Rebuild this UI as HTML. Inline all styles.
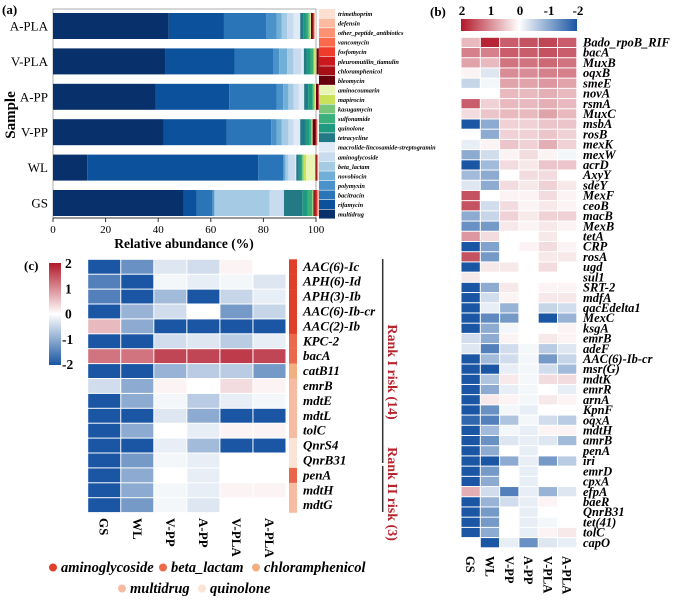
<!DOCTYPE html>
<html><head><meta charset="utf-8">
<style>
html,body{margin:0;padding:0;background:#fff;}
svg{display:block;font-family:"Liberation Serif",serif;}
svg text{font-family:"Liberation Serif",serif;}
.it{font-style:italic;font-weight:bold;}
</style></head>
<body>
<svg id="fig" width="676" height="601" viewBox="0 0 676 601" xmlns="http://www.w3.org/2000/svg">
<g id="pa"></g>
<g id="pb"></g>
<g id="pc"></g>
</svg>
<script>
// ---------- Panel (a) data ----------
const samplesA = ["A-PLA","V-PLA","A-PP","V-PP","WL","GS"];
const classesA = ["multidrug","rifamycin","bacitracin","polymyxin","novobiocin","beta_lactam","aminoglycoside","macrolide-lincosamide-streptogramin","tetracycline","quinolone","sulfonamide","kasugamycin","mapirocin","aminocoumarin","bleomycin","chloramphenicol","pleuromutilin_tiamulin","fosfomycin","vancomycin","other_peptide_antibiotics","defensin","trimethoprim"];
const classColorsA = ["#08306b","#0b519c","#2a74b8","#4a92c9","#72afd8","#a4cbe3","#c9dcef","#dfeaf6","#237a86","#1d9a80","#3cb07a","#78c679","#c9e25a","#e8f5b4","#67000d","#a50f15","#cb181d","#ef3b2c","#fb6a4a","#fc9272","#fcbba1","#fde0d2"];
const valsAPLA = [44,21,16,4,2,2,2.5,2.5,1.2,1.2,0.8,0.4,0.3,0.2,0.6,0.3,0.2,0.1,0.1,0.1,0.1,0.4];
const valsVPLA = [42.6,26.4,14.8,2.2,3,2.4,3,1,1,1.5,1,0.4,0.6,0.3,0.8,0.2,0.1,0.1,0.1,0.1,0.1,0.3];
const valsAPP  = [39,28,18,2.5,2,2,2,2,1.5,1.5,0.5,0.4,0.4,0.2,0.8,0.2,0.1,0.1,0.1,0.1,0.1,0.3];
const valsVPP  = [42,24,17,2,2,2.5,2,2.5,2,1.5,0.6,0.2,0.2,0.2,1.2,0.2,0.1,0.1,0.1,0.1,0.1,0.2];
const valsWL   = [13,65,9.5,0.5,0.5,1,2.5,0.5,1,1,0.3,0.5,1,3.5,0.3,0.3,0.1,0.1,0.1,0.1,0.1,0.1];
const valsGS   = [49.6,5,6,0.6,0.2,21,5.3,0.1,7,2,1.7,0.3,0.1,0.1,0.5,0.4,0.3,0.2,0.2,0.3,0.2,0.1];
const seriesA = [valsAPLA,valsVPLA,valsAPP,valsVPP,valsWL,valsGS];
const ticksA = [0,20,40,60,80,100];

// ---------- Panel (b) data ----------
const genesB = ["Bado_rpoB_RIF","bacA","MuxB","oqxB","smeE","novA","rsmA","MuxC","msbA","rosB","mexK","mexW","acrD","AxyY","sdeY","MexF","ceoB","macB","MexB","tetA","CRP","rosA","ugd","sul1","SRT-2","mdfA","qacEdelta1","MexC","ksgA","emrB","adeF","AAC(6)-Ib-cr","msr(G)","mdtK","emrR","arnA","KpnF","oqxA","mdtH","amrB","penA","iri","emrD","cpxA","efpA","baeR","QnrB31","tet(41)","tolC","capO"];
const samplesB = ["GS","WL","V-PP","A-PP","V-PLA","A-PLA"];
const valuesB = [
[0.6,1.9,1.4,1.5,1.6,1.4],[1.1,1.1,1.4,1.4,1.5,1.4],[0.8,0.6,1.2,1.2,1.3,1.2],[0.1,-0.3,1.0,1.0,1.1,1.1],
[-0.5,-0.1,0.8,0.8,0.9,0.8],[0,0,0.6,0.6,0.7,0.6],[1.4,0.4,0.6,0.6,0.7,0.6],[0.3,0.5,0.6,0.6,0.8,0.6],
[-2,-1.0,0.4,0.4,0.5,0.5],[0,-1.0,0.4,0.4,0.5,0.4],[-0.2,0.1,0.5,0.4,0.7,0.4],[-1.0,-0.4,0.1,0.3,0.1,-0.1],
[-2,-0.8,0.3,0.2,0.5,0.5],[-0.8,-1.0,0,0.3,0.3,0],[-0.3,-1.0,0.3,0.2,0.4,0.2],[1.5,0,0.1,0.1,0.3,0.1],
[1.5,-0.4,0.3,0.1,0.2,0.1],[-1.0,-0.5,0.4,0.2,0.4,0.4],[-1.3,-1.2,0.2,0.1,0.2,0.1],[0.9,0.3,0,0,0.2,0],
[-2,-1.1,0,0.1,0.3,0.1],[1.5,-1.2,0,0,0.2,0.2],[-2,0.2,0.2,0,0.3,0],[0.2,0,0,0,0,0],
[-2,-1.0,0.2,0,0.1,0.1],[-2,-0.4,0.1,0,0.2,0.2],[-2,-0.2,-0.9,0,-0.5,-0.4],[-2,-1.4,-1.2,0,-2,-0.9],
[-2,-1.0,-0.1,0,0,0.1],[-0.4,-1.0,0.1,0,0.2,0.1],[-0.3,-1.5,-0.4,-0.1,-0.6,-0.3],[-2,-0.8,-0.4,-0.1,-1.2,-0.5],
[-2,-2,-0.2,-0.1,-0.4,-0.8],[-2,-0.7,0.2,-0.1,0.3,0.3],[-2,-1.0,-0.2,-0.1,0,-0.2],[-2,0.2,0.1,-0.1,0.2,0.1],
[-2,-1.3,-0.1,-0.2,0,0],[-1.8,-1.5,-0.7,-0.1,-0.4,-0.6],[-2,-0.8,-0.1,-0.2,0.1,0.1],[-2,-1.3,-0.3,-0.2,-0.3,-0.8],
[-2,-1.0,0,-0.2,0,0],[-2,-2,-1.0,-0.2,-1.2,-0.6],[-2,-1.2,0,-0.2,0,0],[-2,-1.0,0,-0.2,0,0],
[0.7,-0.4,-1.5,-0.2,-0.9,-0.3],[-2,-0.9,-0.4,-0.2,0.1,0],[-2,-1.2,0,-0.2,0,0],[-2,-1.2,0,-0.2,-0.1,0],
[-2,-1.0,0,-0.2,0.1,0.2],[null,-2,-0.2,-1.3,-0.3,-0.2]];

// ---------- Panel (c) data ----------
const genesC = ["AAC(6)-Ic","APH(6)-Id","APH(3)-Ib","AAC(6)-Ib-cr","AAC(2)-Ib","KPC-2","bacA","catB11","emrB","mdtE","mdtL","tolC","QnrS4","QnrB31","penA","mdtH","mdtG"];
const classC = ["aminoglycoside","aminoglycoside","aminoglycoside","aminoglycoside","aminoglycoside","beta_lactam","beta_lactam","chloramphenicol","multidrug","multidrug","multidrug","multidrug","quinolone","quinolone","beta_lactam","multidrug","multidrug"];
const legendC = ["aminoglycoside","beta_lactam","chloramphenicol","multidrug","quinolone"];
const legendColorsC = ["#e0402a","#ea6a4c","#f0b080","#f6bca3","#fbe3d6"];
const valuesC = [
[-2,-1.3,-0.3,-0.4,0.1,0],[-1.5,-2,-0.1,-0.2,-0.1,-0.3],[-1.5,-2,-0.8,-2,-0.5,-0.2],[-2,-0.9,-0.4,0,-1.2,-0.5],
[0.6,-1.0,-2,-2,-2,-2],[-2,-2,-0.4,-0.3,-0.6,-0.2],[1.2,1.2,1.6,1.6,1.7,1.6],[-2,-2,-0.9,-0.6,-0.6,-1.2],
[-0.4,-1.0,0.1,0,0.3,0.1],[-2,-1.0,-0.1,-0.6,-0.2,-0.1],[-2,-2,-0.3,-1.0,-2,-2],[-2,-1.0,0,-0.2,0.1,0.1],
[-2,-2,-0.2,-0.8,-2,-2],[-2,-1.2,-0.1,-0.2,null,null],[-2,-1.0,0,-0.2,null,null],[-2,-1.0,-0.1,-0.2,0.1,0.1],
[-2,-1.2,-0.1,-0.3,null,null]];
const cbTicks = [2,1,0,-1,-2];

const NS="http://www.w3.org/2000/svg";
function mk(parent,tag,attrs,text){const e=document.createElementNS(NS,tag);for(const k in attrs)e.setAttribute(k,attrs[k]);if(text!==undefined)e.textContent=text;parent.appendChild(e);return e;}
function colorOf(v){
  const R=[178,24,43],W=[255,255,255],B=[26,86,163];
  let t=Math.max(-2,Math.min(2,v))/2,c;
  if(t>=0)c=W.map((w,i)=>Math.round(w+(R[i]-w)*t));else c=W.map((w,i)=>Math.round(w+(B[i]-w)*(-t)));
  return `rgb(${c[0]},${c[1]},${c[2]})`;
}

// ===== Panel A =====
const pa=document.getElementById('pa');
const ax0=53, ax1=316, barTop=13, barStep=35.4, barH=26;
const xA=v=>ax0+(ax1-ax0)*v/100;
const yA=i=>barTop+i*barStep;
let t=mk(pa,'text',{x:2,y:14,'font-size':13,'font-weight':'bold'},'(a)');


let fr=mk(pa,'rect',{x:ax0,y:9,width:ax1-ax0,height:209,fill:'none',stroke:'#999','stroke-width':0.8});


seriesA.forEach((vals,si)=>{
  let acc=0;
  vals.forEach((v,ci)=>{
    const r=mk(pa,'rect',{x:xA(acc),y:yA(si),width:Math.max(0,xA(acc+v)-xA(acc)),height:barH,fill:classColorsA[ci]});
    
    
    acc+=v;
  });
  const l=mk(pa,'text',{x:48,y:yA(si)+barH/2+4.5,'font-size':13,'text-anchor':'end'},samplesA[si]);
  
  
});
mk(pa,'line',{x1:ax0,y1:218,x2:ax1,y2:218,stroke:'#333','stroke-width':1});
ticksA.forEach(tv=>{
  const tk=mk(pa,'line',{x1:xA(tv),y1:218,x2:xA(tv),y2:222,stroke:'#333','stroke-width':1});
  
  
  const tl=mk(pa,'text',{x:xA(tv),y:233,'font-size':11,'text-anchor':'middle'},String(tv));
  
  
});
t=mk(pa,'text',{x:184,y:248,'font-size':13.5,'font-weight':'bold','text-anchor':'middle'},'Relative abundance (%)');


t=mk(pa,'text',{x:0,y:0,'font-size':15,'font-weight':'bold','text-anchor':'middle',transform:'translate(15,115) rotate(-90)'},'Sample');


for(let k=0;k<classesA.length;k++){
  const ci=classesA.length-1-k;
  const y=9+k*9.55;
  const s=mk(pa,'rect',{x:319,y:y,width:16,height:9,fill:classColorsA[ci]});
  
  
  const lt=mk(pa,'text',{x:338,y:y+7,'font-size':6.3,class:'it'},classesA[ci]);
  
  
}

// ===== Panel B =====
const pb=document.getElementById('pb');
const bx0=461, bcw=19.3, by0=37.3, brh=10.21;
t=mk(pb,'text',{x:430,y:16,'font-size':13,'font-weight':'bold'},'(b)');


const defs=mk(document.getElementById('fig'),'defs',{});
const gb=mk(defs,'linearGradient',{id:'gb',x1:0,y1:0,x2:1,y2:0});
[[0,2],[0.25,1],[0.5,0],[0.75,-1],[1,-2]].forEach(p=>mk(gb,'stop',{offset:p[0],'stop-color':colorOf(p[1])}));
const gc=mk(defs,'linearGradient',{id:'gc',x1:0,y1:0,x2:0,y2:1});
[[0,2],[0.25,1],[0.5,0],[0.75,-1],[1,-2]].forEach(p=>mk(gc,'stop',{offset:p[0],'stop-color':colorOf(p[1])}));
let cb=mk(pb,'rect',{x:461,y:19,width:116,height:12,fill:'url(#gb)'});


cbTicks.forEach((v,i)=>{
  const tl=mk(pb,'text',{x:462+i*29,y:15,'font-size':13,'font-weight':'bold','text-anchor':'middle'},String(v));
  
  
});
valuesB.forEach((row,ri)=>{
  row.forEach((v,ci)=>{
    if(v===null)return;
    const c=mk(pb,'rect',{x:bx0+ci*bcw+0.5,y:by0+ri*brh+0.5,width:bcw-1,height:brh-1,fill:colorOf(v)});
    
    
  });
  const gl=mk(pb,'text',{x:583,y:by0+ri*brh+brh-1,'font-size':12.5,class:'it'},genesB[ri]);
  
  
});
samplesB.forEach((s,ci)=>{
  const cx=bx0+ci*bcw+bcw/2;
  const sl=mk(pb,'text',{x:0,y:0,'font-size':12.5,'font-weight':'bold',transform:`translate(${cx-4.5},556) rotate(90)`},s);
  
  
});

// ===== Panel C =====
const pc=document.getElementById('pc');
const cx0=87.7, ccw=33.05, cy0=259.3, crh=14.9;
t=mk(pc,'text',{x:24,y:270,'font-size':13,'font-weight':'bold'},'(c)');


cb=mk(pc,'rect',{x:49,y:263,width:12,height:102,fill:'url(#gc)'});


cbTicks.forEach((v,i)=>{
  const tl=mk(pc,'text',{x:v<0?62:65,y:268+i*25.3,'font-size':13.5,'font-weight':'bold'},String(v));
  
  
});
valuesC.forEach((row,ri)=>{
  row.forEach((v,ci)=>{
    if(v===null)return;
    const c=mk(pc,'rect',{x:cx0+ci*ccw+0.5,y:cy0+ri*crh+0.5,width:ccw-1,height:crh-1,fill:colorOf(v)});
    
    
  });
  const k=legendC.indexOf(classC[ri]);
  const cr=mk(pc,'rect',{x:289,y:cy0+ri*crh,width:8,height:crh+0.2,fill:ri===14?'#e8664a':legendColorsC[k]});
  
  
  const gl=mk(pc,'text',{x:303,y:cy0+ri*crh+11.5,'font-size':13,class:'it'},genesC[ri]);
  
  
});
samplesB.forEach((s,ci)=>{
  const cx=cx0+ci*ccw+ccw/2;
  const sl=mk(pc,'text',{x:0,y:0,'font-size':13,'font-weight':'bold',transform:`translate(${cx-4.5},518) rotate(90)`},s);
  
  
});
let ln=mk(pc,'line',{x1:382.7,y1:259,x2:382.7,y2:463,stroke:'#333','stroke-width':1.5});


ln=mk(pc,'line',{x1:382.7,y1:466,x2:382.7,y2:512,stroke:'#333','stroke-width':1.5});


t=mk(pc,'text',{x:0,y:0,'font-size':14,'font-weight':'bold',fill:'#b8242e','text-anchor':'middle',transform:'translate(388,372) rotate(90)'},'Rank I risk (14)');


t=mk(pc,'text',{x:0,y:0,'font-size':14,'font-weight':'bold',fill:'#b8242e','text-anchor':'middle',transform:'translate(388,494) rotate(90)'},'Rank II risk (3)');


const legPos=[[53,572],[163,572],[256,572],[122,593],[202,593]];
legendC.forEach((n,i)=>{
  const p=legPos[i];
  const d=mk(pc,'circle',{cx:p[0],cy:p[1]-4.5,r:4,fill:legendColorsC[i]});
  
  
  const lt=mk(pc,'text',{x:p[0]+8,y:p[1],'font-size':14.5,class:'it'},n);
  
  
});
</script>
</body></html>
